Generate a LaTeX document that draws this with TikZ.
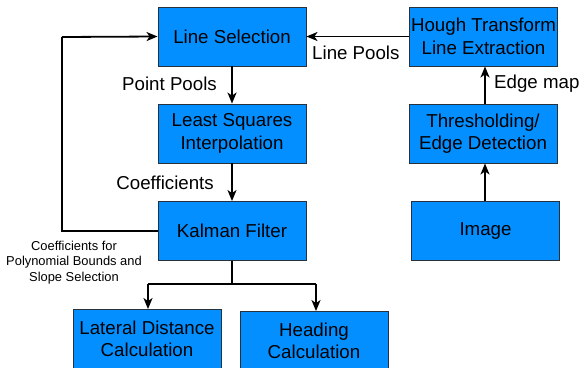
\documentclass[tikz,border=0pt]{standalone}
\usepackage{fontspec}
\setmainfont{Liberation Sans}
\usetikzlibrary{arrows.meta}
\definecolor{boxblue}{RGB}{3,143,255}
\definecolor{boxedge}{RGB}{40,50,60}
\tikzset{
  blk/.style={draw=boxedge, line width=0.9pt, fill=boxblue, minimum width=148pt, minimum height=59pt,
    inner sep=0pt, align=center, font=\fontsize{18.7}{22.5}\selectfont},
  conn/.style={line width=1.8pt, -{Stealth[length=11pt,width=9pt,inset=3pt]}},
  plain/.style={line width=1.8pt},
  lbl/.style={font=\fontsize{18.7}{22.5}\selectfont, inner sep=0pt},
  small/.style={font=\fontsize{12.9}{15.8}\selectfont, align=center, inner sep=0pt},
}
\begin{document}
\begin{tikzpicture}[x=1pt,y=-1pt]
\useasboundingbox (0,0) rectangle (581,367);
\clip (0,0) rectangle (581,367);
\node[blk] (ls) at (232,36.5) {Line Selection};
\node[blk] (lsq) at (232,133.5) {Least Squares\\Interpolation};
\node[blk] (kf) at (232,231) {Kalman Filter};
\node[blk] (lat) at (147,339) {Lateral Distance\\Calculation};
\node[blk] (head) at (314,341) {Heading\\Calculation};
\node[blk] (hough) at (483.5,36.5) {Hough Transform\\Line Extraction};
\node[blk] (thr) at (483,133.5) {Thresholding/\\Edge Detection};
\node[blk] (img) at (485.5,231) {Image};
\coordinate (fbb) at (62,231);
\coordinate (fbt) at (62,37);
\coordinate (split) at (232,284);
\coordinate (sl) at (148,284);
\coordinate (sr) at (316,284);
\draw[conn] (ls.south) -- (lsq.north);
\draw[conn] (lsq.south) -- (kf.north);
\draw[conn] (hough.west) -- (ls.east);
\draw[conn] (img.north -| thr.south) ++(2,0) coordinate (ia) (ia) -- (ia |- thr.south);
\draw[conn] (thr.south) ++(2,0) coordinate (ta) (ta |- thr.north) -- (ta |- hough.south);
\draw[plain] (kf.west) -- (fbb) -- (fbt);
\draw[conn] (fbt) -- (ls.west);
\draw[plain] (kf.south) -- (split);
\draw[plain] (sl) -- (sr);
\draw[conn] (sl) -- (sl |- lat.north);
\draw[conn] (sr) -- (sr |- head.north);
\node[lbl, anchor=east] (pp) at (217,84) {Point Pools};
\node[lbl, anchor=east] (co) at (214,183) {Coefficients};
\node[lbl, anchor=west] (lp) at (312,53) {Line Pools};
\node[lbl, anchor=west] (em) at (494,84) {Edge map};
\node[small] (cf) at (74,262.5) {Coefficients for\\Polynomial Bounds and\\Slope Selection};
\end{tikzpicture}
\end{document}
